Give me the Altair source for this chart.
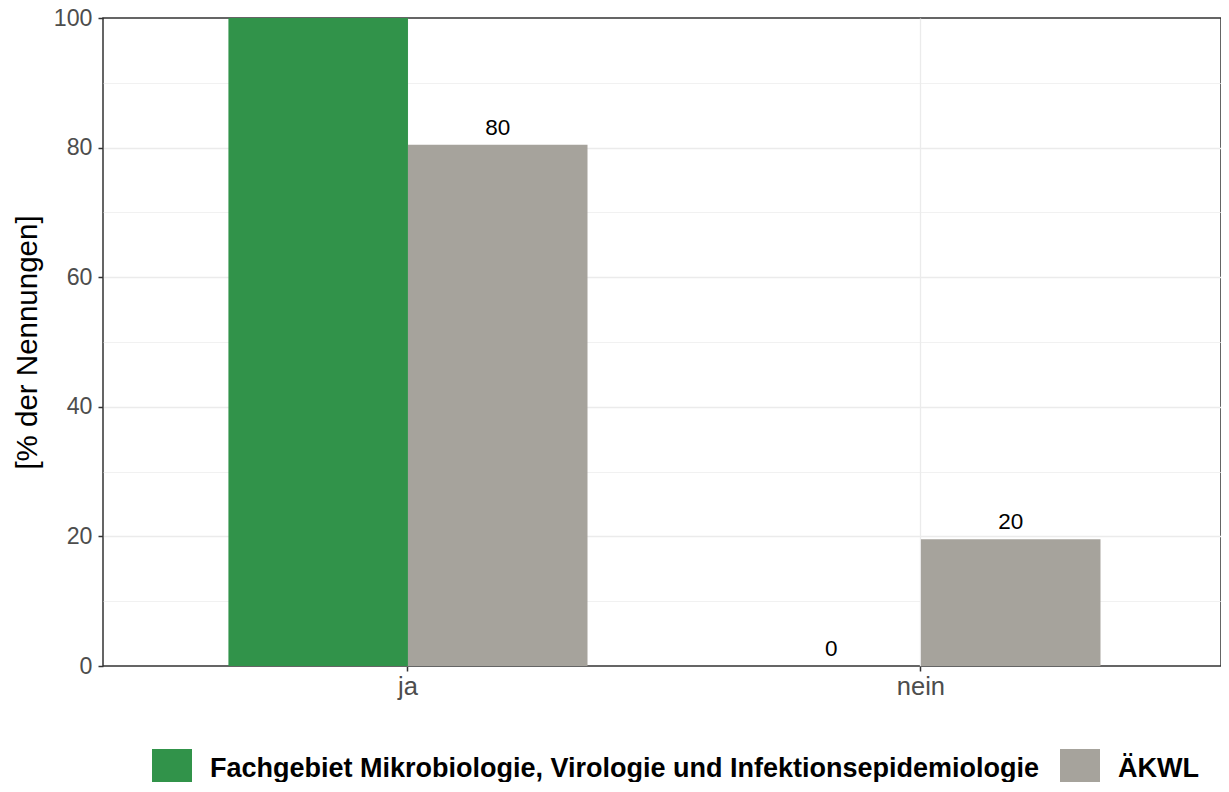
import altair as alt
import pandas as pd

categories = ["ja", "ja", "nein", "nein"]
groups = [
    "Fachgebiet Mikrobiologie, Virologie und Infektionsepidemiologie",
    "ÄKWL",
    "Fachgebiet Mikrobiologie, Virologie und Infektionsepidemiologie",
    "ÄKWL",
]
values = [100, 80.45, 0, 19.55]
labels = ["100", "80", "0", "20"]

group_order = [
    "Fachgebiet Mikrobiologie, Virologie und Infektionsepidemiologie",
    "ÄKWL",
]
colors = ["#31934A", "#A6A39C"]

df = pd.DataFrame({"cat": categories, "grp": groups, "val": values, "lab": labels})

FONT = "Liberation Sans"

x_enc = alt.X(
    "cat:N",
    sort=["ja", "nein"],
    scale=alt.Scale(paddingInner=0.3, paddingOuter=0.2397, align=0.51),
    axis=alt.Axis(
        title=None,
        labelAngle=0,
        labelFontSize=25.5,
        labelColor="#4d4d4d",
        labelFont=FONT,
        labelPadding=3,
        tickSize=5,
        tickColor="#333333",
        tickWidth=1.5,
        domain=False,
        grid=True,
        gridColor="#ebebeb",
        gridWidth=1.3,
        bandPosition=0.5,
    ),
)
xoff_enc = alt.XOffset(
    "grp:N", sort=group_order, scale=alt.Scale(paddingInner=0, paddingOuter=0)
)
y_scale = alt.Scale(domain=[0, 100], nice=False)

bars = alt.Chart(df).mark_bar(clip=True).encode(
    x=x_enc,
    xOffset=xoff_enc,
    y=alt.Y(
        "val:Q",
        scale=y_scale,
        axis=alt.Axis(
            values=[0, 10, 20, 30, 40, 50, 60, 70, 80, 90, 100],
            title="[% der Nennungen]",
            titleFont=FONT,
            titleFontSize=29.5,
            titleFontWeight="normal",
            titleColor="#000000",
            titleAngle=-90,
            titleX=-76,
            titleY=324,
            titleAlign="center",
            titleBaseline="middle",
            labelFontSize=23.2,
            labelFont=FONT,
            labelColor="#4d4d4d",
            labelPadding=6,
            labelExpr="datum.value % 20 == 0 ? datum.label : ''",
            tickSize=5,
            tickColor="#333333",
            tickWidth=1.5,
            tickOpacity={"condition": {"test": "datum.value % 20 == 0", "value": 1}, "value": 0},
            domain=False,
            grid=True,
            gridColor="#ebebeb",
            gridOpacity={"condition": {"test": "datum.value == 0 || datum.value == 100", "value": 0}, "value": 1},
            gridWidth={"condition": {"test": "datum.value % 20 == 0", "value": 1.3}, "value": 0.7},
        ),
    ),
    color=alt.Color(
        "grp:N",
        sort=group_order,
        scale=alt.Scale(domain=group_order, range=colors),
        legend=alt.Legend(
            title=None,
            orient="none",
            legendX=49,
            legendY=731,
            direction="horizontal",
            symbolType="square",
            symbolSize=1600,
            symbolStrokeWidth=0,
            symbolOpacity=1,
            labelFont=FONT,
            labelFontSize=27,
            labelFontWeight="bold",
            labelColor="#000000",
            labelOffset=18,
            labelLimit=2000,
            columnPadding=20,
        ),
    ),
)

# the label of the full (100 %) bar lies outside the panel in the reference and is not shown
text = alt.Chart(df).transform_filter("datum.val < 100").mark_text(
    clip=True, dy=-10, baseline="alphabetic", fontSize=22.5, font=FONT, color="#000000"
).encode(
    x=alt.X("cat:N", sort=["ja", "nein"]),
    xOffset=alt.XOffset("grp:N", sort=group_order),
    y=alt.Y("val:Q", scale=y_scale),
    text="lab:N",
)

chart = (
    alt.layer(bars, text)
    .properties(
        width=1118,
        height=648,
        autosize=alt.AutoSizeParams(type="none"),
        padding={"left": 95, "top": 10, "right": 0, "bottom": 116},
        background="white",
    )
    .configure_view(stroke="#333333", strokeWidth=1.5)
)

chart.save("out.html", embed_options={"renderer": "svg", "actions": False})
